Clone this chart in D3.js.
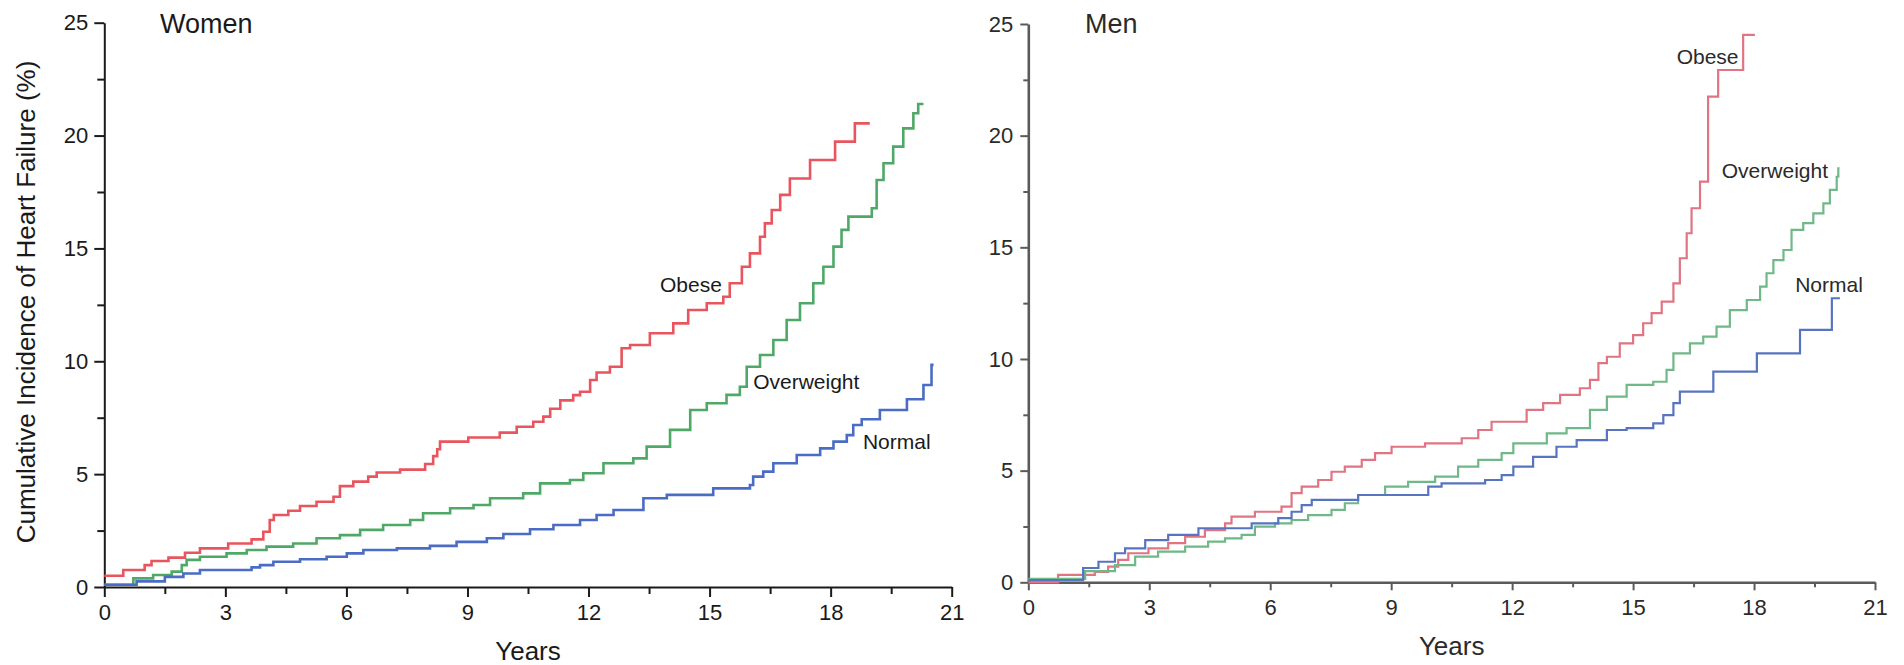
<!DOCTYPE html>
<html>
<head>
<meta charset="utf-8">
<script src="https://cdn.jsdelivr.net/npm/d3@7"></script>
<style>
  body { margin: 0; background: #fff; }
  text { font-family: "Liberation Sans", Arial, sans-serif; }
</style>
</head>
<body>
<div id="chart"></div>
<script>
// tick values
var yearTicks = [0, 3, 6, 9, 12, 15, 18, 21];
var yearMinor = [1.5, 4.5, 7.5, 10.5, 13.5, 16.5, 19.5];
var pctTicks = [0, 5, 10, 15, 20, 25];
var pctMinor = [2.5, 7.5, 12.5, 17.5, 22.5];
var groups = ["Obese", "Overweight", "Normal"];

// [years, cumulative incidence %]
var womenObese = [[0,0.5],[0.47,0.75],[1.0,0.97],[1.17,1.15],[1.59,1.3],[2.0,1.52],[2.37,1.71],[3.07,1.93],
  [3.65,2.11],[3.94,2.45],[4.1,2.97],[4.2,3.19],[4.56,3.38],[4.85,3.59],[5.26,3.78],[5.68,4.0],[5.84,4.47],
  [6.17,4.67],[6.54,4.89],[6.75,5.07],[7.33,5.2],[7.95,5.45],[8.15,5.8],[8.25,6.1],[8.32,6.44],[9.02,6.62],
  [9.8,6.84],[10.22,7.1],[10.63,7.32],[10.88,7.55],[11.05,7.9],[11.3,8.27],[11.62,8.5],[11.79,8.65],
  [12.04,9.17],[12.2,9.5],[12.53,9.76],[12.82,10.58],[13.03,10.72],[13.52,11.24],[14.1,11.68],[14.47,12.27],
  [14.93,12.57],[15.34,12.86],[15.5,13.46],[15.8,14.19],[16.0,14.78],[16.25,15.52],[16.37,16.11],
  [16.54,16.7],[16.75,17.37],[16.99,18.1],[17.49,18.92],[18.11,19.73],[18.6,20.54],[18.97,20.54]];
var womenOverweight = [[0,0.1],[0.72,0.38],[1.21,0.53],[1.67,0.68],[1.92,0.97],[2.04,1.2],[2.37,1.34],
  [3.03,1.49],[3.53,1.64],[4.02,1.79],[4.68,1.93],[5.26,2.16],[5.84,2.3],[6.34,2.53],[6.91,2.75],[7.58,2.97],
  [7.9,3.27],[8.57,3.49],[9.15,3.63],[9.56,3.93],[10.38,4.15],[10.8,4.59],[11.54,4.74],[11.87,5.04],
  [12.37,5.48],[13.11,5.7],[13.44,6.22],[14.02,6.96],[14.52,7.84],[14.93,8.14],[15.42,8.51],[15.75,8.87],
  [15.92,9.76],[16.25,10.28],[16.58,10.94],[16.91,11.83],[17.24,12.57],[17.57,13.46],[17.82,14.19],
  [18.07,15.08],[18.27,15.82],[18.44,16.41],[19.02,16.78],[19.14,18.03],[19.31,18.77],[19.55,19.51],
  [19.8,20.32],[20.05,20.99],[20.17,21.4],[20.3,21.4]];
var womenNormal = [[0,0.1],[0.8,0.25],[1.5,0.45],[1.96,0.6],[2.37,0.75],[3.65,0.87],[3.86,0.97],[4.19,1.12],
  [4.85,1.23],[5.51,1.34],[6.01,1.49],[6.42,1.64],[7.25,1.71],[8.07,1.82],[8.73,2.0],[9.48,2.16],[9.89,2.35],
  [10.55,2.56],[11.13,2.75],[11.79,2.97],[12.2,3.19],[12.62,3.41],[13.36,3.93],[13.94,4.08],[15.09,4.37],
  [16.0,4.52],[16.08,4.89],[16.33,5.11],[16.58,5.48],[17.16,5.85],[17.74,6.14],[18.07,6.44],[18.4,6.73],
  [18.56,7.18],[18.77,7.43],[19.22,7.84],[19.89,8.32],[20.3,8.95],[20.5,9.84],[20.55,9.84]];

var menObese = [[0,0],[0.74,0.33],[1.65,0.47],[1.98,0.7],[2.23,1.0],[2.48,1.3],[2.98,1.52],[3.47,1.75],
  [3.89,2.04],[4.38,2.34],[4.88,2.64],[5.04,2.94],[5.62,3.16],[6.28,3.39],[6.53,3.99],[6.78,4.28],[7.19,4.58],
  [7.52,4.95],[7.85,5.18],[8.27,5.48],[8.6,5.78],[9.01,6.07],[9.84,6.22],[10.75,6.45],[11.16,6.82],
  [11.49,7.19],[12.36,7.72],[12.77,8.02],[13.19,8.39],[13.68,8.69],[13.93,9.06],[14.14,9.81],[14.35,10.1],
  [14.67,10.7],[15.0,11.07],[15.25,11.6],[15.46,12.05],[15.71,12.57],[16.0,13.39],[16.16,14.51],
  [16.33,15.63],[16.45,16.75],[16.66,17.94],[16.86,21.75],[17.11,22.94],[17.73,24.51],[18.02,24.51]];
var menOverweight = [[0,0.15],[1.41,0.5],[2.15,0.77],[2.65,1.15],[3.22,1.37],[3.89,1.6],[4.46,1.82],
  [4.88,1.97],[5.29,2.12],[5.62,2.49],[6.12,2.64],[6.53,2.79],[6.94,3.01],[7.52,3.24],[7.85,3.54],[8.18,3.91],
  [8.85,4.28],[9.42,4.5],[10.09,4.73],[10.66,5.18],[11.16,5.48],[11.74,5.78],[12.03,6.22],[12.86,6.67],
  [13.35,6.9],[13.93,7.72],[14.35,8.31],[14.84,8.84],[15.5,8.98],[15.83,9.51],[16.0,10.25],[16.41,10.7],
  [16.74,11.0],[17.07,11.45],[17.4,12.19],[17.82,12.64],[18.15,13.24],[18.31,13.84],[18.48,14.43],
  [18.73,14.88],[18.93,15.78],[19.22,16.08],[19.47,16.52],[19.72,16.97],[19.88,17.57],[20.05,18.16],
  [20.09,18.54],[20.12,18.54]];
var menNormal = [[0,0.1],[1.36,0.64],[1.74,0.92],[2.15,1.3],[2.4,1.52],[2.9,1.89],[3.47,2.12],[4.22,2.42],
  [5.54,2.64],[6.2,2.87],[6.53,3.16],[6.78,3.46],[7.03,3.69],[8.18,3.91],[9.92,4.28],[10.25,4.43],
  [11.33,4.58],[11.74,4.8],[12.03,5.18],[12.52,5.62],[13.1,6.07],[13.6,6.37],[14.35,6.82],[14.84,6.9],
  [15.5,7.12],[15.75,7.49],[16.0,8.02],[16.16,8.54],[16.99,9.43],[18.07,10.25],[19.14,11.3],[19.93,12.72],
  [20.13,12.72]];

var svg = d3.select("#chart").append("svg")
    .attr("width", 1904)
    .attr("height", 665);

function drawPanel(p) {
    var x = d3.scaleLinear().domain([0, 21]).range([p.left, p.right]);
    var y = d3.scaleLinear().domain([0, 25]).range([p.bottom, p.top]);
    var g = svg.append("g");

    var line = d3.line()
        .curve(d3.curveStepAfter)
        .x(function (d) { return x(d[0]); })
        .y(function (d) { return y(d[1]); });

    // minor ticks
    g.append("g")
        .attr("transform", "translate(0," + p.bottom + ")")
        .call(d3.axisBottom(x).tickValues(yearMinor).tickSize(p.minor).tickFormat(""))
        .call(function (a) { a.select(".domain").remove(); });
    g.append("g")
        .attr("transform", "translate(" + p.left + ",0)")
        .call(d3.axisLeft(y).tickValues(pctMinor).tickSize(p.minor).tickFormat(""))
        .call(function (a) { a.select(".domain").remove(); });

    var xa = g.append("g")
        .attr("transform", "translate(0," + p.bottom + ")")
        .call(d3.axisBottom(x).tickValues(yearTicks).tickSize(p.major).tickSizeOuter(0).tickPadding(p.xpad));
    var ya = g.append("g")
        .attr("transform", "translate(" + p.left + ",0)")
        .call(d3.axisLeft(y).tickValues(pctTicks).tickSize(p.major).tickSizeOuter(0).tickPadding(p.ypad));

    g.selectAll(".tick line").attr("stroke", p.axisColor).attr("stroke-width", p.tickWidth);
    g.selectAll(".domain").attr("stroke", p.axisColor).attr("stroke-width", p.axisWidth);
    g.selectAll(".tick text")
        .attr("fill", p.textColor)
        .style("font-size", "22px")
        .style("font-family", "'Liberation Sans', Arial, sans-serif");

    p.series.forEach(function (s, i) {
        g.append("path")
            .datum(s)
            .attr("fill", "none")
            .attr("stroke", p.colors[i])
            .attr("stroke-width", p.lineWidth)
            .attr("d", line);
    });

    groups.forEach(function (name, i) {
        g.append("text")
            .attr("x", x(p.labels[i][0]))
            .attr("y", y(p.labels[i][1]))
            .attr("dy", "0.35em")
            .attr("fill", p.textColor)
            .style("font-size", "21px")
            .text(name);
    });

    g.append("text")
        .attr("x", p.titleX)
        .attr("y", 33)
        .attr("fill", p.textColor)
        .style("font-size", "27px")
        .text(p.title);

    g.append("text")
        .attr("x", (p.left + p.right) / 2)
        .attr("y", p.yearsY)
        .attr("text-anchor", "middle")
        .attr("fill", p.textColor)
        .style("font-size", "26px")
        .text("Years");
    return g;
}

drawPanel({
    title: "Women", titleX: 160,
    left: 104.3, right: 951.7, top: 22.7, bottom: 587,
    major: 10, minor: 7, xpad: 7, ypad: 6,
    axisColor: "#1a1a1a", axisWidth: 2, tickWidth: 2, textColor: "#1a1a1a",
    lineWidth: 2.6, yearsY: 660,
    series: [womenObese, womenOverweight, womenNormal],
    colors: ["#e8555e", "#4fa966", "#4a6cc4"],
    labels: [[13.77, 13.38], [16.08, 9.08], [18.8, 6.44]]
});

drawPanel({
    title: "Men", titleX: 1085,
    left: 1028.3, right: 1875, top: 24, bottom: 582.3,
    major: 8, minor: 5, xpad: 9, ypad: 7,
    axisColor: "#5a5a5a", axisWidth: 2.6, tickWidth: 2, textColor: "#2a2a2a",
    lineWidth: 2.2, yearsY: 655,
    series: [menObese, menOverweight, menNormal],
    colors: ["#e07482", "#6fb887", "#5874c0"],
    labels: [[16.08, 23.54], [17.2, 18.43], [19.02, 13.31]]
});

// y axis title (women panel only)
svg.append("text")
    .attr("transform", "translate(35,302) rotate(-90)")
    .attr("text-anchor", "middle")
    .attr("fill", "#1a1a1a")
    .style("font-size", "26px")
    .text("Cumulative Incidence of Heart Failure (%)");
</script>
</body>
</html>
